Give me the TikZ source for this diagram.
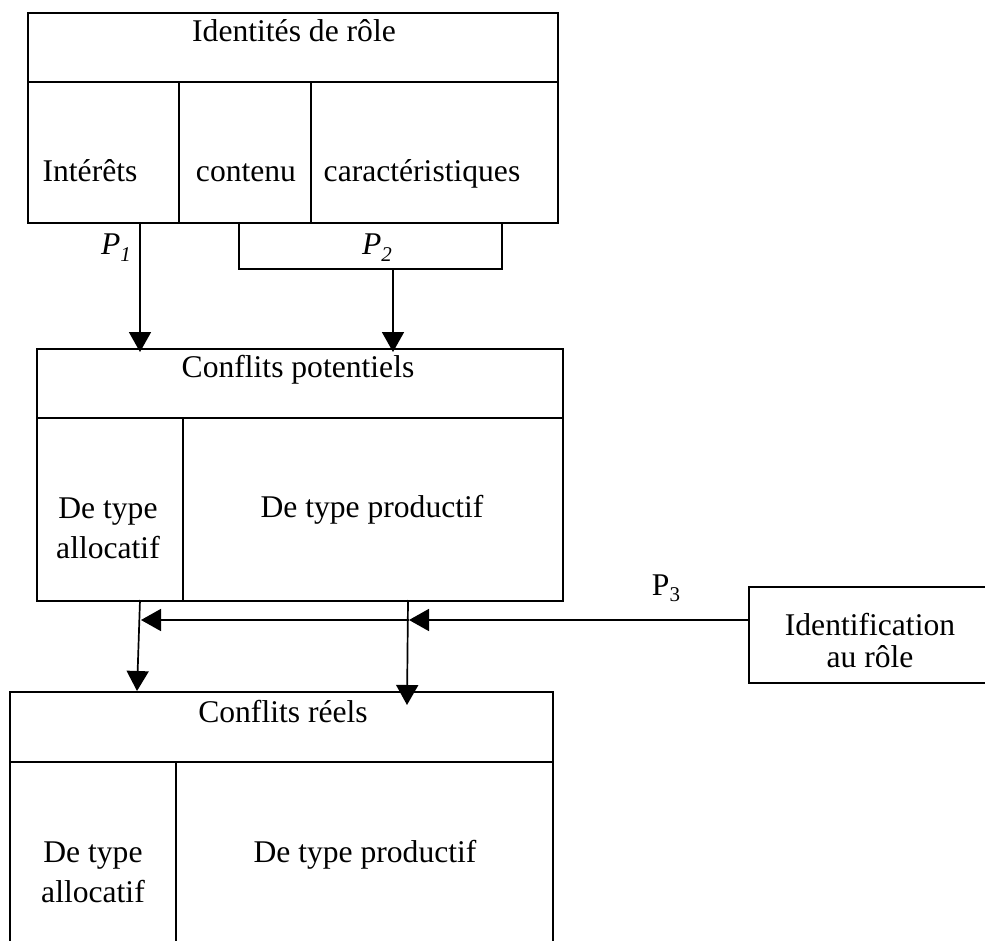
\documentclass[tikz,border=0pt]{standalone}
\usepackage{fontspec}
\setmainfont{Liberation Serif}
\usetikzlibrary{arrows.meta,calc}
\begin{document}
\begin{tikzpicture}[x=0.5pt,y=-0.5pt,
  box/.style={draw,line width=1pt,inner sep=0pt,anchor=north west},
  rule/.style={line width=1pt},
  conn/.style={line width=0.85pt,-{Triangle[length=10pt,width=11pt]}},
  plain/.style={line width=0.85pt},
  txt/.style={anchor=base,inner sep=0pt,align=center,font=\fontsize{15.8}{20}\selectfont},
]
\useasboundingbox (0,0) rectangle (985,941);

% ---- Identités de rôle
\node[box,minimum width=265pt,minimum height=105pt] (idr) at (27,12) {};
\draw[rule] (27,82) -- (557,82);
\draw[rule] (179,82) -- (179,222);
\draw[rule] (311,82) -- (311,222);
\node[txt] (t1) at (294,42) {Identités de rôle};
\node[txt] (t2) at (90,182) {Intérêts};
\node[txt] (t3) at (246,182) {contenu};
\node[txt] (t4) at (422,182) {caractéristiques};

% ---- Conflits potentiels
\node[box,minimum width=263pt,minimum height=126pt] (pot) at (36,348) {};
\draw[rule] (36,418) -- (562,418);
\draw[rule] (183,418) -- (183,600);
\node[txt] (t5) at (298,377) {Conflits potentiels};
\node[txt] (t6) at (108,558) {De type\\allocatif};
\node[txt] (t7) at (372,517) {De type productif};

% ---- Conflits réels (open at bottom)
\coordinate (reel) at (10,692);
\draw[rule] (10,945) -- (10,692) -- (553,692) -- (553,945);
\draw[rule] (10,762) -- (553,762);
\draw[rule] (176,762) -- (176,945);
\node[txt] (t8) at (283,722) {Conflits réels};
\node[txt] (t9) at (93,902) {De type\\allocatif};
\node[txt] (t10) at (365,862) {De type productif};

% ---- Identification au rôle (open at right)
\draw[rule] (990,587) -- (749,587) -- (749,683) -- (990,683);
\node[txt,font=\fontsize{15.8}{16}\selectfont] (ident) at (870,667) {Identification\\au rôle};
\coordinate (identw) at (749,620);

% ---- connectors
\coordinate (p1s) at (140,222);
\draw[conn] (p1s) -- (140,352);
\node[txt] (p1) at (116,255) {\textit{P}\raisebox{-0.22em}{\fontsize{10.5}{12}\selectfont\textit{1}}};

\coordinate (p2a) at (239,222);
\coordinate (p2b) at (502,222);
\draw[plain] (p2a) -- (239,269) -- (502,269) -- (p2b);
\coordinate (p2m) at (393,269);
\draw[conn] (p2m) -- (393,352);
\node[txt] (p2) at (377,255) {\textit{P}\raisebox{-0.22em}{\fontsize{10.5}{12}\selectfont\textit{2}}};

\coordinate (a1s) at (140,600);
\coordinate (a2s) at (408,600);
\draw[conn] (a1s) -- (137,691);
\draw[conn] (a2s) -- (407,705);

\coordinate (h2) at (409,620);
\draw[conn] (identw) -- (h2);
\draw[conn] (h2) -- (141,620);
\node[txt] (p3) at (666,595) {P\raisebox{-0.22em}{\fontsize{10.5}{12}\selectfont 3}};
\end{tikzpicture}
\end{document}
